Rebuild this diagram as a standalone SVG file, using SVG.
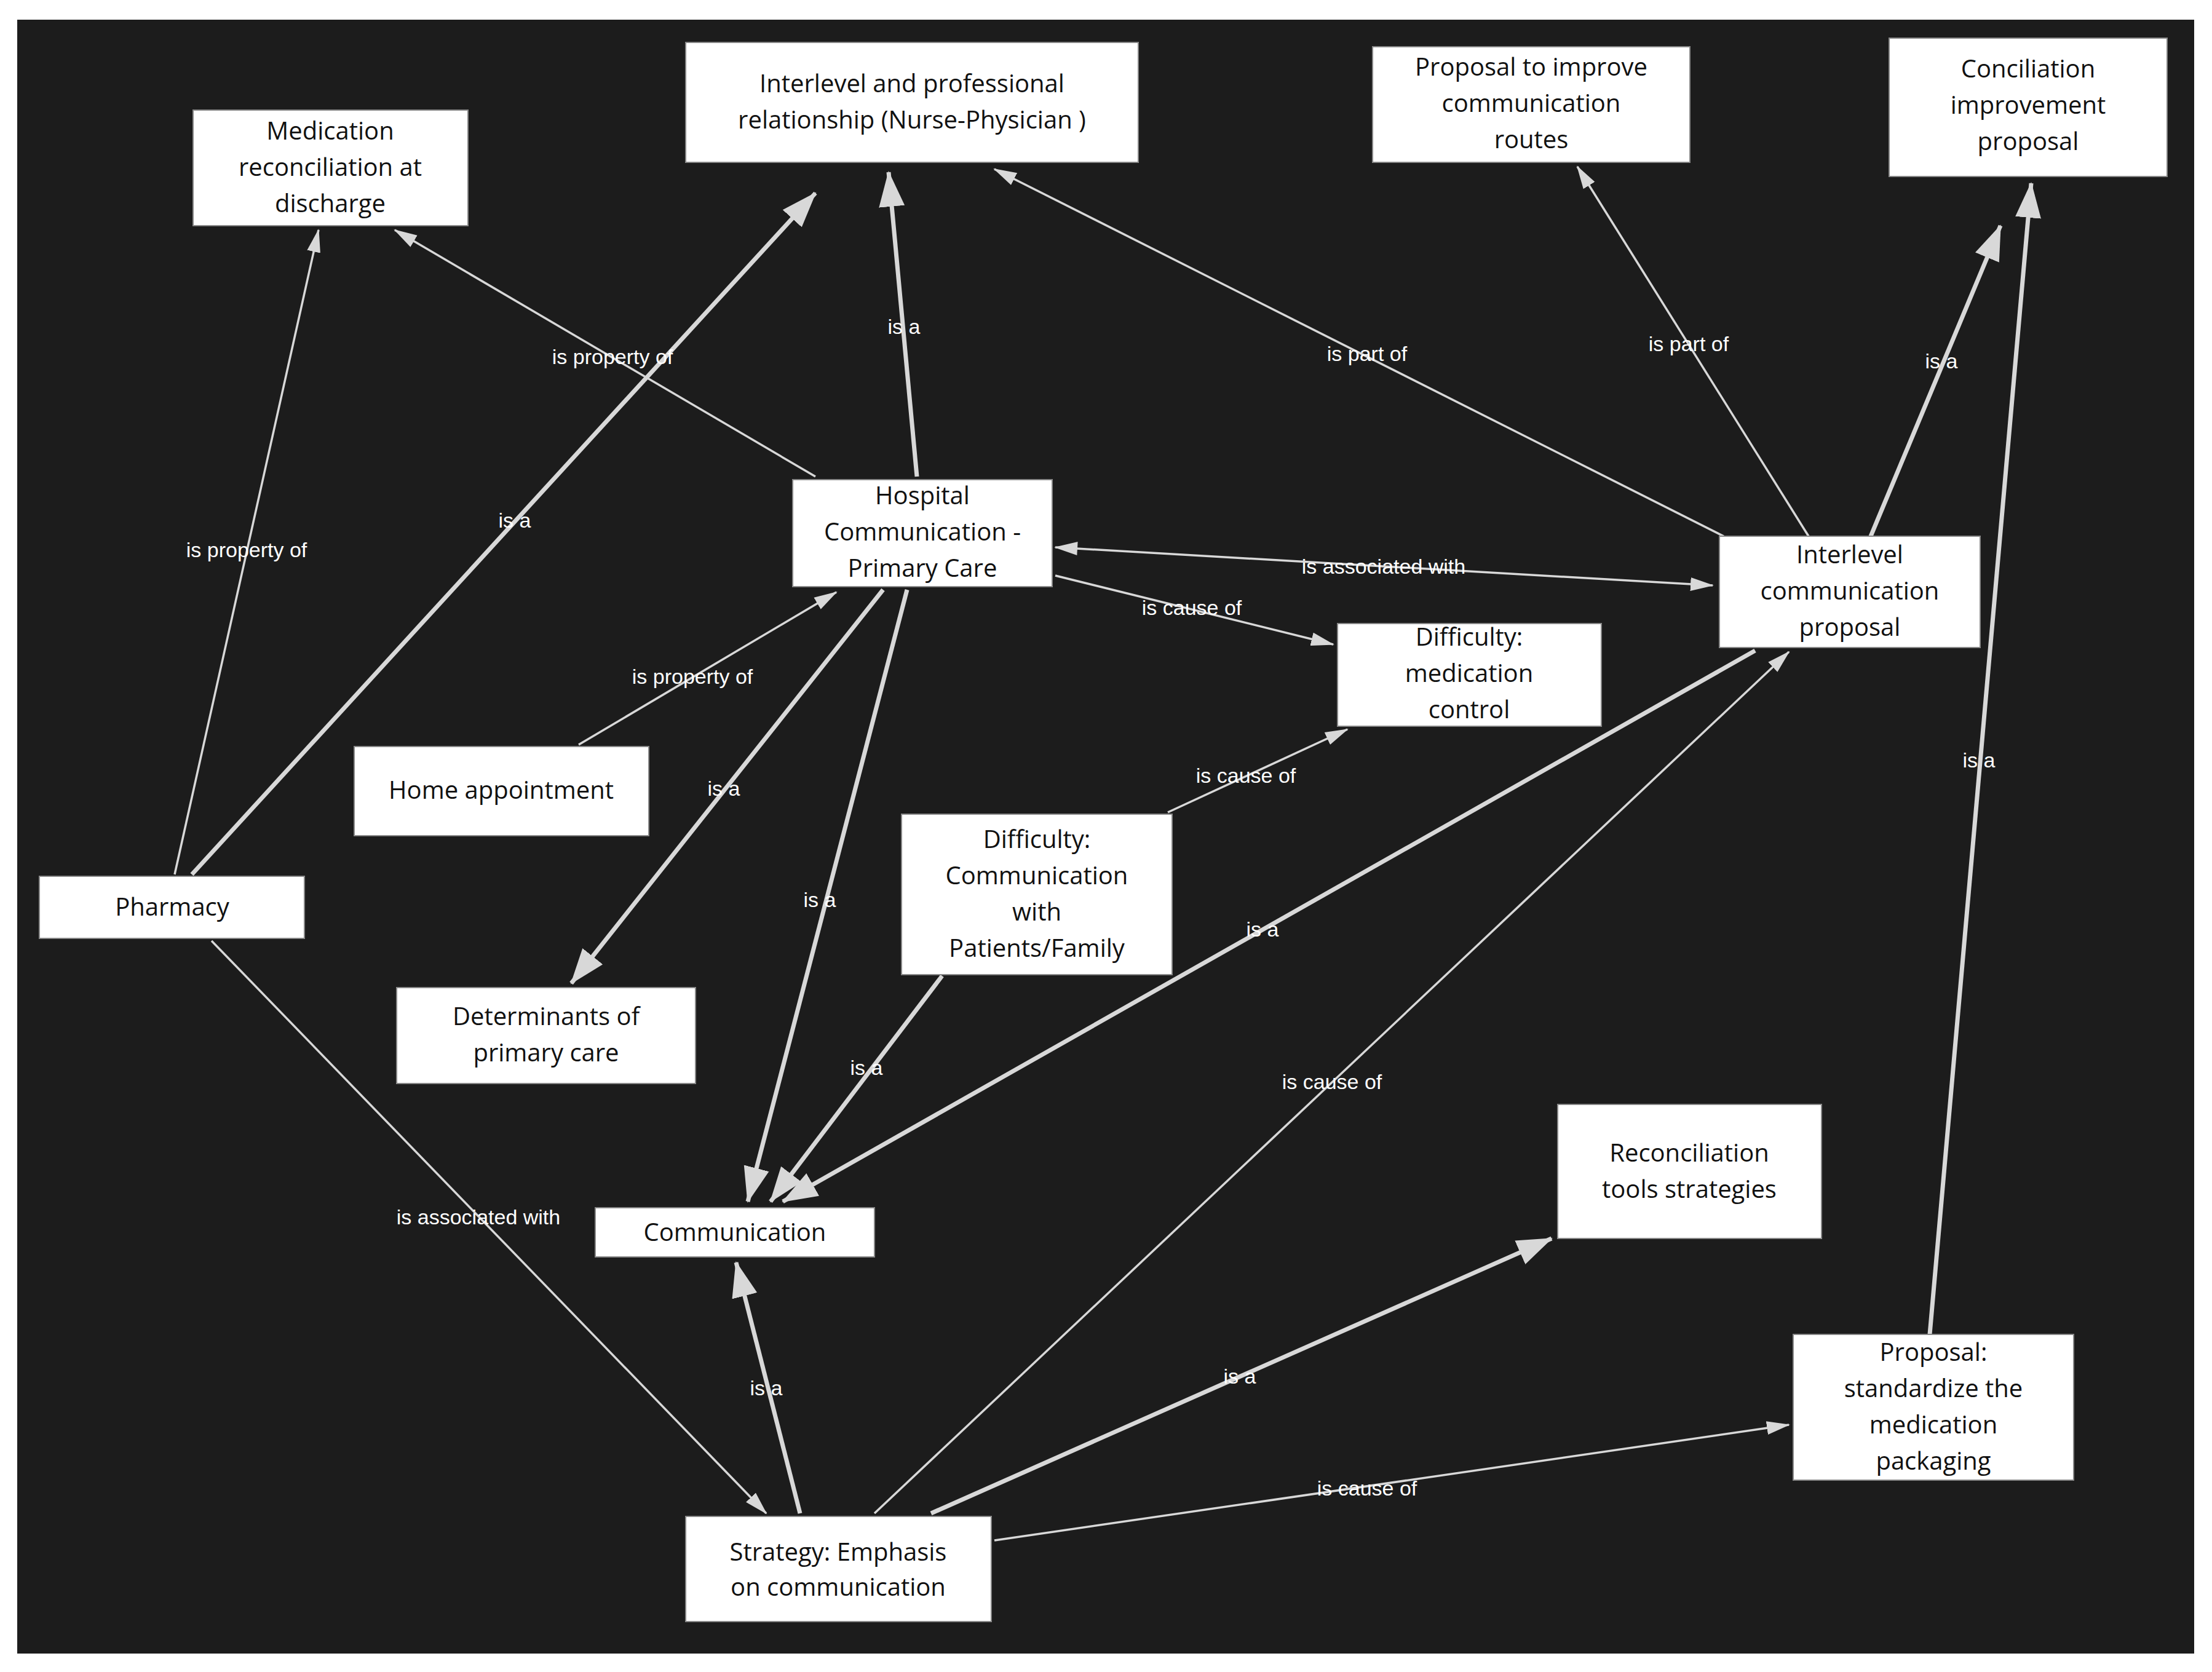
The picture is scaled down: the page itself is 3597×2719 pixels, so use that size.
<svg xmlns="http://www.w3.org/2000/svg" width="3597" height="2719" viewBox="0 0 3597 2719">
<style>
.n rect{fill:#fff;stroke:#888;stroke-width:2}
.n text{font-family:"Open Sans","Liberation Sans",sans-serif;font-size:40px;fill:#111;text-anchor:middle}
.e line{stroke:#d8d8d8;fill:none}
.t{stroke-width:3.5}
.k{stroke-width:7}
.l{font-family:"Liberation Sans",Arial,sans-serif;font-size:34px;fill:#fff;text-anchor:middle;dominant-baseline:middle}
</style>
<defs>
<marker id="a" markerUnits="userSpaceOnUse" markerWidth="40" markerHeight="30" refX="36" refY="15" orient="auto"><path d="M0,4 L38,15 L0,26 Z" fill="#d8d8d8"/></marker>
<marker id="b" markerUnits="userSpaceOnUse" markerWidth="60" markerHeight="50" refX="56" refY="25" orient="auto"><path d="M0,4 L58,25 L0,46 Z" fill="#d8d8d8"/></marker>
<marker id="as" markerUnits="userSpaceOnUse" markerWidth="40" markerHeight="30" refX="2" refY="15" orient="auto"><path d="M38,4 L0,15 L38,26 Z" fill="#d8d8d8"/></marker>
</defs>
<rect width="3597" height="2719" fill="#fff"/>
<rect x="28" y="32" width="3540" height="2657" fill="#1c1c1c"/>
<g id="edges" class="e">
<line class="t" x1="1326" y1="775" x2="642" y2="374" marker-end="url(#a)"/>
<line class="t" x1="284" y1="1422" x2="518" y2="374" marker-end="url(#a)"/>
<line class="k" x1="312" y1="1422" x2="1326" y2="314" marker-end="url(#b)"/>
<line class="k" x1="1491" y1="775" x2="1445" y2="280" marker-end="url(#b)"/>
<line class="t" x1="2803" y1="872" x2="1617" y2="275" marker-end="url(#a)"/>
<line class="t" x1="2941" y1="872" x2="2565" y2="271" marker-end="url(#a)"/>
<line class="k" x1="3042" y1="872" x2="3253" y2="367" marker-end="url(#b)"/>
<line class="k" x1="3138" y1="2170" x2="3303" y2="298" marker-end="url(#b)"/>
<line class="t" x1="1716" y1="890" x2="2785" y2="952" marker-start="url(#as)" marker-end="url(#a)"/>
<line class="t" x1="1716" y1="936" x2="2168" y2="1048" marker-end="url(#a)"/>
<line class="t" x1="1899" y1="1321" x2="2191" y2="1186" marker-end="url(#a)"/>
<line class="t" x1="941" y1="1211" x2="1360" y2="963" marker-end="url(#a)"/>
<line class="k" x1="1436" y1="959" x2="929" y2="1599" marker-end="url(#b)"/>
<line class="k" x1="1475" y1="959" x2="1216" y2="1954" marker-end="url(#b)"/>
<line class="k" x1="1532" y1="1587" x2="1253" y2="1954" marker-end="url(#b)"/>
<line class="k" x1="2854" y1="1058" x2="1273" y2="1954" marker-end="url(#b)"/>
<line class="t" x1="344" y1="1530" x2="1246" y2="2461" marker-end="url(#a)"/>
<line class="k" x1="1301" y1="2461" x2="1197" y2="2053" marker-end="url(#b)"/>
<line class="t" x1="1422" y1="2461" x2="2909" y2="1060" marker-end="url(#a)"/>
<line class="k" x1="1514" y1="2461" x2="2523" y2="2014" marker-end="url(#b)"/>
<line class="t" x1="1617" y1="2505" x2="2909" y2="2317" marker-end="url(#a)"/>
<text class="l" x="996" y="583">is property of</text>
<text class="l" x="401" y="897">is property of</text>
<text class="l" x="837" y="849">is a</text>
<text class="l" x="1470" y="534">is a</text>
<text class="l" x="2223" y="578">is part of</text>
<text class="l" x="2746" y="562">is part of</text>
<text class="l" x="3157" y="590">is a</text>
<text class="l" x="3218" y="1239">is a</text>
<text class="l" x="2250" y="924">is associated with</text>
<text class="l" x="1938" y="991">is cause of</text>
<text class="l" x="2026" y="1264">is cause of</text>
<text class="l" x="1126" y="1103">is property of</text>
<text class="l" x="1177" y="1285">is a</text>
<text class="l" x="1333" y="1466">is a</text>
<text class="l" x="1409" y="1739">is a</text>
<text class="l" x="2053" y="1514">is a</text>
<text class="l" x="778" y="1982">is associated with</text>
<text class="l" x="1246" y="2260">is a</text>
<text class="l" x="2166" y="1762">is cause of</text>
<text class="l" x="2016" y="2241">is a</text>
<text class="l" x="2223" y="2423">is cause of</text>
</g>
<g id="n1" class="n"><rect x="314" y="179" width="447" height="188"/><text x="537" y="227">Medication</text><text x="537" y="286">reconciliation at</text><text x="537" y="345">discharge</text></g>
<g id="n2" class="n"><rect x="1115" y="69" width="736" height="195"/><text x="1483" y="150">Interlevel and professional</text><text x="1483" y="209">relationship (Nurse-Physician )</text></g>
<g id="n3" class="n"><rect x="2232" y="76" width="516" height="188"/><text x="2490" y="123">Proposal to improve</text><text x="2490" y="182">communication</text><text x="2490" y="241">routes</text></g>
<g id="n4" class="n"><rect x="3072" y="62" width="452" height="225"/><text x="3298" y="126">Conciliation</text><text x="3298" y="185">improvement</text><text x="3298" y="244">proposal</text></g>
<g id="n5" class="n"><rect x="1289" y="780" width="422" height="174"/><text x="1500" y="820">Hospital</text><text x="1500" y="879">Communication -</text><text x="1500" y="938">Primary Care</text></g>
<g id="n6" class="n"><rect x="2796" y="872" width="424" height="181"/><text x="3008" y="916">Interlevel</text><text x="3008" y="975">communication</text><text x="3008" y="1034">proposal</text></g>
<g id="n7" class="n"><rect x="2175" y="1014" width="429" height="167"/><text x="2389" y="1050">Difficulty:</text><text x="2389" y="1109">medication</text><text x="2389" y="1168">control</text></g>
<g id="n8" class="n"><rect x="576" y="1214" width="479" height="145"/><text x="815" y="1299">Home appointment</text></g>
<g id="n9" class="n"><rect x="64" y="1425" width="431" height="101"/><text x="280" y="1489">Pharmacy</text></g>
<g id="n10" class="n"><rect x="1466" y="1324" width="440" height="261"/><text x="1686" y="1379">Difficulty:</text><text x="1686" y="1438">Communication</text><text x="1686" y="1497">with</text><text x="1686" y="1556">Patients/Family</text></g>
<g id="n11" class="n"><rect x="645" y="1606" width="486" height="156"/><text x="888" y="1667">Determinants of</text><text x="888" y="1726">primary care</text></g>
<g id="n12" class="n"><rect x="968" y="1964" width="454" height="80"/><text x="1195" y="2018">Communication</text></g>
<g id="n13" class="n"><rect x="2533" y="1796" width="429" height="218"/><text x="2747" y="1889">Reconciliation</text><text x="2747" y="1948">tools strategies</text></g>
<g id="n14" class="n"><rect x="2916" y="2170" width="456" height="237"/><text x="3144" y="2213">Proposal:</text><text x="3144" y="2272">standardize the</text><text x="3144" y="2331">medication</text><text x="3144" y="2390">packaging</text></g>
<g id="n15" class="n"><rect x="1115" y="2466" width="497" height="171"/><text x="1363" y="2538">Strategy: Emphasis</text><text x="1363" y="2595">on communication</text></g>
</svg>
